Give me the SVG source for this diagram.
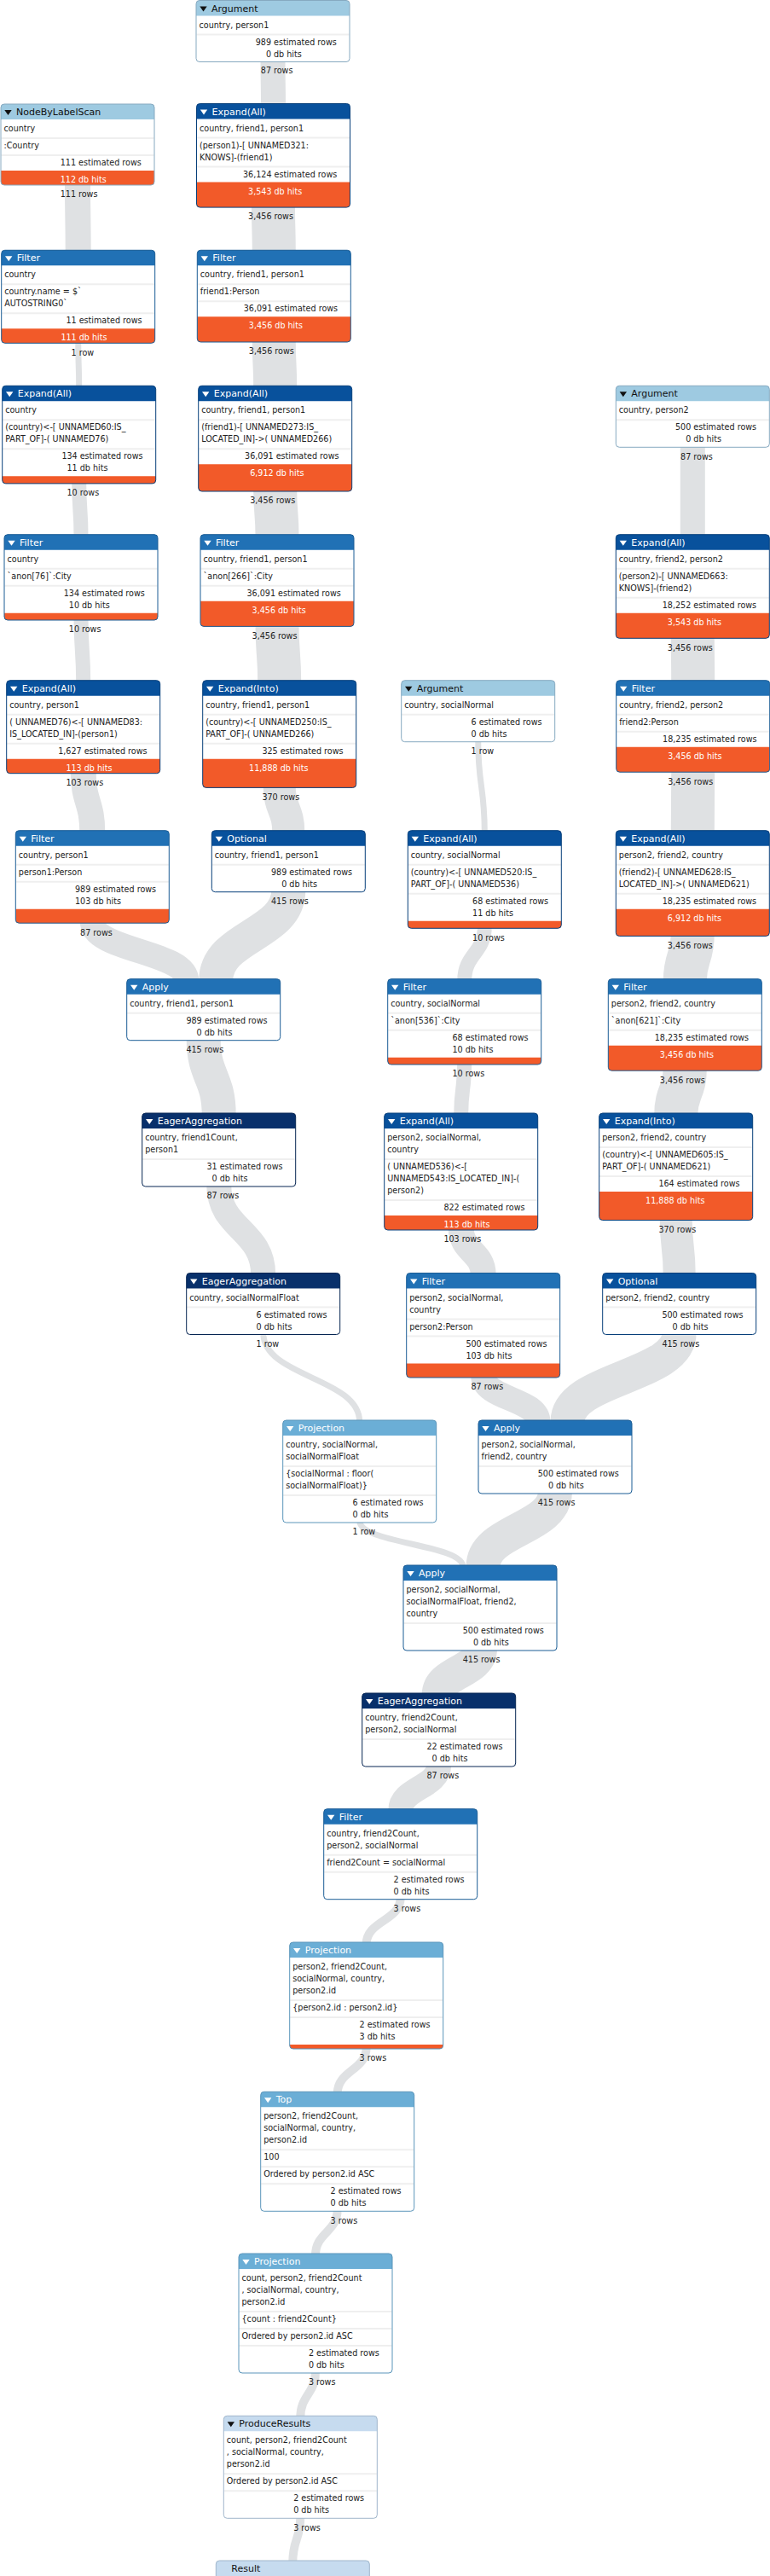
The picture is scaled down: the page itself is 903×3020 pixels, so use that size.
<svg xmlns="http://www.w3.org/2000/svg" width="903" height="3020" viewBox="0 0 903 3020">
<style>
.bg{fill:#fff}
.t{font-family:"DejaVu Sans","Liberation Sans",sans-serif;font-size:9.6px;fill:#222}
.h{font-family:"DejaVu Sans","Liberation Sans",sans-serif;font-size:11px;fill:#fff}
.hk{fill:#111}
.e{text-anchor:end}
.w{fill:#fff}
.sep{stroke:#efefef;stroke-width:2}
.bar{fill:#f25a29}
.tw{fill:#fff}
.tk{fill:#111}
.c1{fill:#9ecae1}.c2{fill:#08519c}.c3{fill:#2171b5}.c4{fill:#08306b}.c5{fill:#6baed6}.c6{fill:#c6dbef}
.o1{fill:none;stroke:#86a9c0}.o2{fill:none;stroke:#073f7a}.o3{fill:none;stroke:#1b5d95}.o4{fill:none;stroke:#062552}.o5{fill:none;stroke:#5a95ba}.o6{fill:none;stroke:#a0b6cb}
.band{fill:none;stroke:#dfe1e3}
</style>
<g id="connectors">
<path class="band" stroke-width="29" d="M320,70 C320,96.75 320.5,96.75 320.5,123.5"/>
<path class="band" stroke-width="51" d="M320.5,241 C320.5,268.2 321.3,268.2 321.3,295.3"/>
<path class="band" stroke-width="51" d="M321.3,399 C321.3,426.7 322.7,426.7 322.7,454.3"/>
<path class="band" stroke-width="51" d="M322.7,574 C322.7,601.4 325,601.4 325,628.7"/>
<path class="band" stroke-width="51" d="M325,732.4 C325,766 327.7,766 327.7,799.7"/>
<path class="band" stroke-width="38" d="M327.7,921.4 C327.7,948.6 338.3,948.6 338.3,975.7"/>
<path class="band" stroke-width="40" d="M338.3,1043.7 C338.3,1096.7 253.2,1096.7 253.2,1149.7"/>
<path class="band" stroke-width="30" d="M91,215 C91,255.2 91.7,255.2 91.7,295.3"/>
<path class="band" stroke-width="7" d="M91.7,400.3 C91.7,427.3 92.7,427.3 92.7,454.3"/>
<path class="band" stroke-width="17" d="M92.7,564.9 C92.7,596.8 95,596.8 95,628.7"/>
<path class="band" stroke-width="17" d="M95,725 C95,762.4 97.7,762.4 97.7,799.7"/>
<path class="band" stroke-width="30" d="M97.7,904.7 C97.7,940.2 108.3,940.2 108.3,975.7"/>
<path class="band" stroke-width="29" d="M108.3,1080.2 C108.3,1115 218.7,1115 218.7,1149.7"/>
<path class="band" stroke-width="40" d="M238.7,1217.7 C238.7,1262.4 256.7,1262.4 256.7,1307"/>
<path class="band" stroke-width="29" d="M256.7,1389 C256.7,1441.7 308.7,1441.7 308.7,1494.5"/>
<path class="band" stroke-width="7" d="M308.7,1562.5 C308.7,1614.8 421.7,1614.8 421.7,1667"/>
<path class="band" stroke-width="7" d="M421.7,1783 C421.7,1810 543,1810 543,1837"/>
<path class="band" stroke-width="29" d="M812.3,522.3 C812.3,575.5 812.3,575.5 812.3,628.7"/>
<path class="band" stroke-width="51" d="M812.3,746.3 C812.3,773 812.7,773 812.7,799.7"/>
<path class="band" stroke-width="51" d="M812.7,903.2 C812.7,939.5 812.3,939.5 812.3,975.7"/>
<path class="band" stroke-width="51" d="M812.3,1095.4 C812.3,1122.6 803.3,1122.6 803.3,1149.7"/>
<path class="band" stroke-width="51" d="M803.3,1253.2 C803.3,1280.1 792.7,1280.1 792.7,1307"/>
<path class="band" stroke-width="38" d="M792.7,1428.5 C792.7,1461.6 796.7,1461.6 796.7,1494.5"/>
<path class="band" stroke-width="40" d="M796.7,1562.5 C796.7,1614.8 665.5,1614.8 665.5,1667"/>
<path class="band" stroke-width="7" d="M560.7,867.7 C560.7,921.7 568.3,921.7 568.3,975.7"/>
<path class="band" stroke-width="17" d="M568.3,1086.3 C568.3,1118 544.7,1118 544.7,1149.7"/>
<path class="band" stroke-width="17" d="M544.7,1246 C544.7,1276.5 540.7,1276.5 540.7,1307"/>
<path class="band" stroke-width="30" d="M540.7,1440 C540.7,1467.3 566.7,1467.3 566.7,1494.5"/>
<path class="band" stroke-width="29" d="M566.7,1613 C566.7,1640 631,1640 631,1667"/>
<path class="band" stroke-width="40" d="M651,1749 C651,1793 566.5,1793 566.5,1837"/>
<path class="band" stroke-width="40" d="M563,1933 C563,1960 514.7,1960 514.7,1987"/>
<path class="band" stroke-width="29" d="M514.7,2069 C514.7,2095.9 469.7,2095.9 469.7,2122.7"/>
<path class="band" stroke-width="10" d="M469.7,2224.7 C469.7,2251.9 429.7,2251.9 429.7,2279"/>
<path class="band" stroke-width="10" d="M429.7,2400 C429.7,2427.2 395.7,2427.2 395.7,2454.3"/>
<path class="band" stroke-width="10" d="M395.7,2590.3 C395.7,2617.2 370,2617.2 370,2644"/>
<path class="band" stroke-width="10" d="M370,2780 C370,2807.2 352.3,2807.2 352.3,2834.3"/>
<path class="band" stroke-width="10" d="M352.3,2950.3 C352.3,2977.2 343.3,2977.2 343.3,3004"/>
<text class="t e" x="318" y="86.3">87</text><text class="t" x="321" y="86.3">rows</text>
<text class="t e" x="318.5" y="257.4">3,456</text><text class="t" x="321.5" y="257.4">rows</text>
<text class="t e" x="319.3" y="415.3">3,456</text><text class="t" x="322.3" y="415.3">rows</text>
<text class="t e" x="320.7" y="590.3">3,456</text><text class="t" x="323.7" y="590.3">rows</text>
<text class="t e" x="323" y="748.7">3,456</text><text class="t" x="326" y="748.7">rows</text>
<text class="t e" x="325.7" y="937.7">370</text><text class="t" x="328.7" y="937.7">rows</text>
<text class="t e" x="336.3" y="1060">415</text><text class="t" x="339.3" y="1060">rows</text>
<text class="t e" x="236.7" y="1234">415</text><text class="t" x="239.7" y="1234">rows</text>
<text class="t e" x="254.7" y="1405.3">87</text><text class="t" x="257.7" y="1405.3">rows</text>
<text class="t e" x="306.7" y="1578.8">1</text><text class="t" x="309.7" y="1578.8">row</text>
<text class="t e" x="419.7" y="1799.3">1</text><text class="t" x="422.7" y="1799.3">row</text>
<text class="t e" x="89" y="231.3">111</text><text class="t" x="92" y="231.3">rows</text>
<text class="t e" x="89.7" y="416.6">1</text><text class="t" x="92.7" y="416.6">row</text>
<text class="t e" x="90.7" y="581.2">10</text><text class="t" x="93.7" y="581.2">rows</text>
<text class="t e" x="93" y="741.3">10</text><text class="t" x="96" y="741.3">rows</text>
<text class="t e" x="95.7" y="921">103</text><text class="t" x="98.7" y="921">rows</text>
<text class="t e" x="106.3" y="1096.5">87</text><text class="t" x="109.3" y="1096.5">rows</text>
<text class="t e" x="810.3" y="538.6">87</text><text class="t" x="813.3" y="538.6">rows</text>
<text class="t e" x="810.3" y="762.6">3,456</text><text class="t" x="813.3" y="762.6">rows</text>
<text class="t e" x="810.7" y="919.5">3,456</text><text class="t" x="813.7" y="919.5">rows</text>
<text class="t e" x="810.3" y="1111.7">3,456</text><text class="t" x="813.3" y="1111.7">rows</text>
<text class="t e" x="801.3" y="1269.5">3,456</text><text class="t" x="804.3" y="1269.5">rows</text>
<text class="t e" x="790.7" y="1444.8">370</text><text class="t" x="793.7" y="1444.8">rows</text>
<text class="t e" x="794.7" y="1578.8">415</text><text class="t" x="797.7" y="1578.8">rows</text>
<text class="t e" x="558.7" y="884">1</text><text class="t" x="561.7" y="884">row</text>
<text class="t e" x="566.3" y="1102.6">10</text><text class="t" x="569.3" y="1102.6">rows</text>
<text class="t e" x="542.7" y="1262.3">10</text><text class="t" x="545.7" y="1262.3">rows</text>
<text class="t e" x="538.7" y="1456.3">103</text><text class="t" x="541.7" y="1456.3">rows</text>
<text class="t e" x="564.7" y="1629.3">87</text><text class="t" x="567.7" y="1629.3">rows</text>
<text class="t e" x="649" y="1765.3">415</text><text class="t" x="652" y="1765.3">rows</text>
<text class="t e" x="561" y="1949.3">415</text><text class="t" x="564" y="1949.3">rows</text>
<text class="t e" x="512.7" y="2085.3">87</text><text class="t" x="515.7" y="2085.3">rows</text>
<text class="t e" x="467.7" y="2241">3</text><text class="t" x="470.7" y="2241">rows</text>
<text class="t e" x="427.7" y="2416.3">3</text><text class="t" x="430.7" y="2416.3">rows</text>
<text class="t e" x="393.7" y="2606.6">3</text><text class="t" x="396.7" y="2606.6">rows</text>
<text class="t e" x="368" y="2796.3">3</text><text class="t" x="371" y="2796.3">rows</text>
<text class="t e" x="350.3" y="2966.6">3</text><text class="t" x="353.3" y="2966.6">rows</text>
</g>

<g id="n_arg1">
<rect class="bg" x="230" y="0.5" width="180" height="72" rx="4"/>
<path class="c1" d="M230,18.5V4.5Q230,0.5 234,0.5H406Q410,0.5 410,4.5V18.5Z"/>
<polygon class="tk" points="234.3,7.5 242.7,7.5 238.5,13.5"/>
<text class="h hk" x="248" y="13.5">Argument</text>
<text class="t" x="233.5" y="32.5">country, person1</text>
<line class="sep" x1="230.5" y1="40.5" x2="409.5" y2="40.5"/>
<text class="t e" x="318" y="52.5">989</text><text class="t" x="321" y="52.5">estimated rows</text>
<text class="t e" x="318" y="66.5">0</text><text class="t" x="321" y="66.5">db hits</text>
<rect class="o1" x="230" y="0.5" width="180" height="72" rx="4"/>
</g>

<g id="n_exp1">
<rect class="bg" x="230.5" y="121.5" width="180" height="121.6" rx="4"/>
<path class="c2" d="M230.5,139.5V125.5Q230.5,121.5 234.5,121.5H406.5Q410.5,121.5 410.5,125.5V139.5Z"/>
<polygon class="tw" points="234.8,128.5 243.2,128.5 239,134.5"/>
<text class="h" x="248.5" y="134.5">Expand(All)</text>
<text class="t" x="234" y="153.5">country, friend1, person1</text>
<line class="sep" x1="231" y1="161.5" x2="410" y2="161.5"/>
<text class="t" x="234" y="173.5">(person1)-[ UNNAMED321:</text>
<text class="t" x="234" y="187.5">KNOWS]-(friend1)</text>
<line class="sep" x1="231" y1="195.5" x2="410" y2="195.5"/>
<text class="t e" x="318.5" y="207.5">36,124</text><text class="t" x="321.5" y="207.5">estimated rows</text>
<path class="bar" d="M230.5,213.5H410.5V239.1Q410.5,243.1 406.5,243.1H234.5Q230.5,243.1 230.5,239.1Z"/>
<text class="t e w" x="318.5" y="227.5">3,543</text><text class="t w" x="321.5" y="227.5">db hits</text>
<rect class="o2" x="230.5" y="121.5" width="180" height="121.6" rx="4"/>
</g>

<g id="n_fil1">
<rect class="bg" x="231.3" y="293.3" width="180" height="107.7" rx="4"/>
<path class="c3" d="M231.3,311.3V297.3Q231.3,293.3 235.3,293.3H407.3Q411.3,293.3 411.3,297.3V311.3Z"/>
<polygon class="tw" points="235.6,300.3 244,300.3 239.8,306.3"/>
<text class="h" x="249.3" y="306.3">Filter</text>
<text class="t" x="234.8" y="325.3">country, friend1, person1</text>
<line class="sep" x1="231.8" y1="333.3" x2="410.8" y2="333.3"/>
<text class="t" x="234.8" y="345.3">friend1:Person</text>
<line class="sep" x1="231.8" y1="353.3" x2="410.8" y2="353.3"/>
<text class="t e" x="319.3" y="365.3">36,091</text><text class="t" x="322.3" y="365.3">estimated rows</text>
<path class="bar" d="M231.3,371.3H411.3V397Q411.3,401 407.3,401H235.3Q231.3,401 231.3,397Z"/>
<text class="t e w" x="319.3" y="385.3">3,456</text><text class="t w" x="322.3" y="385.3">db hits</text>
<rect class="o3" x="231.3" y="293.3" width="180" height="107.7" rx="4"/>
</g>

<g id="n_exp2">
<rect class="bg" x="232.7" y="452.3" width="180" height="123.7" rx="4"/>
<path class="c2" d="M232.7,470.3V456.3Q232.7,452.3 236.7,452.3H408.7Q412.7,452.3 412.7,456.3V470.3Z"/>
<polygon class="tw" points="237,459.3 245.4,459.3 241.2,465.3"/>
<text class="h" x="250.7" y="465.3">Expand(All)</text>
<text class="t" x="236.2" y="484.3">country, friend1, person1</text>
<line class="sep" x1="233.2" y1="492.3" x2="412.2" y2="492.3"/>
<text class="t" x="236.2" y="504.3">(friend1)-[ UNNAMED273:IS_</text>
<text class="t" x="236.2" y="518.3">LOCATED_IN]-&gt;( UNNAMED266)</text>
<line class="sep" x1="233.2" y1="526.3" x2="412.2" y2="526.3"/>
<text class="t e" x="320.7" y="538.3">36,091</text><text class="t" x="323.7" y="538.3">estimated rows</text>
<path class="bar" d="M232.7,544.3H412.7V572Q412.7,576 408.7,576H236.7Q232.7,576 232.7,572Z"/>
<text class="t e w" x="320.7" y="558.3">6,912</text><text class="t w" x="323.7" y="558.3">db hits</text>
<rect class="o2" x="232.7" y="452.3" width="180" height="123.7" rx="4"/>
</g>

<g id="n_fil2">
<rect class="bg" x="235" y="626.7" width="180" height="107.7" rx="4"/>
<path class="c3" d="M235,644.7V630.7Q235,626.7 239,626.7H411Q415,626.7 415,630.7V644.7Z"/>
<polygon class="tw" points="239.3,633.7 247.7,633.7 243.5,639.7"/>
<text class="h" x="253" y="639.7">Filter</text>
<text class="t" x="238.5" y="658.7">country, friend1, person1</text>
<line class="sep" x1="235.5" y1="666.7" x2="414.5" y2="666.7"/>
<text class="t" x="238.5" y="678.7">`anon[266]`:City</text>
<line class="sep" x1="235.5" y1="686.7" x2="414.5" y2="686.7"/>
<text class="t e" x="323" y="698.7">36,091</text><text class="t" x="326" y="698.7">estimated rows</text>
<path class="bar" d="M235,704.7H415V730.4Q415,734.4 411,734.4H239Q235,734.4 235,730.4Z"/>
<text class="t e w" x="323" y="718.7">3,456</text><text class="t w" x="326" y="718.7">db hits</text>
<rect class="o3" x="235" y="626.7" width="180" height="107.7" rx="4"/>
</g>

<g id="n_expinto1">
<rect class="bg" x="237.7" y="797.7" width="180" height="125.7" rx="4"/>
<path class="c2" d="M237.7,815.7V801.7Q237.7,797.7 241.7,797.7H413.7Q417.7,797.7 417.7,801.7V815.7Z"/>
<polygon class="tw" points="242,804.7 250.4,804.7 246.2,810.7"/>
<text class="h" x="255.7" y="810.7">Expand(Into)</text>
<text class="t" x="241.2" y="829.7">country, friend1, person1</text>
<line class="sep" x1="238.2" y1="837.7" x2="417.2" y2="837.7"/>
<text class="t" x="241.2" y="849.7">(country)&lt;-[ UNNAMED250:IS_</text>
<text class="t" x="241.2" y="863.7">PART_OF]-( UNNAMED266)</text>
<line class="sep" x1="238.2" y1="871.7" x2="417.2" y2="871.7"/>
<text class="t e" x="325.7" y="883.7">325</text><text class="t" x="328.7" y="883.7">estimated rows</text>
<path class="bar" d="M237.7,889.7H417.7V919.4Q417.7,923.4 413.7,923.4H241.7Q237.7,923.4 237.7,919.4Z"/>
<text class="t e w" x="325.7" y="903.7">11,888</text><text class="t w" x="328.7" y="903.7">db hits</text>
<rect class="o2" x="237.7" y="797.7" width="180" height="125.7" rx="4"/>
</g>

<g id="n_opt1">
<rect class="bg" x="248.3" y="973.7" width="180" height="72" rx="4"/>
<path class="c2" d="M248.3,991.7V977.7Q248.3,973.7 252.3,973.7H424.3Q428.3,973.7 428.3,977.7V991.7Z"/>
<polygon class="tw" points="252.6,980.7 261,980.7 256.8,986.7"/>
<text class="h" x="266.3" y="986.7">Optional</text>
<text class="t" x="251.8" y="1005.7">country, friend1, person1</text>
<line class="sep" x1="248.8" y1="1013.7" x2="427.8" y2="1013.7"/>
<text class="t e" x="336.3" y="1025.7">989</text><text class="t" x="339.3" y="1025.7">estimated rows</text>
<text class="t e" x="336.3" y="1039.7">0</text><text class="t" x="339.3" y="1039.7">db hits</text>
<rect class="o2" x="248.3" y="973.7" width="180" height="72" rx="4"/>
</g>

<g id="n_apply1">
<rect class="bg" x="148.7" y="1147.7" width="180" height="72" rx="4"/>
<path class="c3" d="M148.7,1165.7V1151.7Q148.7,1147.7 152.7,1147.7H324.7Q328.7,1147.7 328.7,1151.7V1165.7Z"/>
<polygon class="tw" points="153,1154.7 161.4,1154.7 157.2,1160.7"/>
<text class="h" x="166.7" y="1160.7">Apply</text>
<text class="t" x="152.2" y="1179.7">country, friend1, person1</text>
<line class="sep" x1="149.2" y1="1187.7" x2="328.2" y2="1187.7"/>
<text class="t e" x="236.7" y="1199.7">989</text><text class="t" x="239.7" y="1199.7">estimated rows</text>
<text class="t e" x="236.7" y="1213.7">0</text><text class="t" x="239.7" y="1213.7">db hits</text>
<rect class="o3" x="148.7" y="1147.7" width="180" height="72" rx="4"/>
</g>

<g id="n_eager1">
<rect class="bg" x="166.7" y="1305" width="180" height="86" rx="4"/>
<path class="c4" d="M166.7,1323V1309Q166.7,1305 170.7,1305H342.7Q346.7,1305 346.7,1309V1323Z"/>
<polygon class="tw" points="171,1312 179.4,1312 175.2,1318"/>
<text class="h" x="184.7" y="1318">EagerAggregation</text>
<text class="t" x="170.2" y="1337">country, friend1Count,</text>
<text class="t" x="170.2" y="1351">person1</text>
<line class="sep" x1="167.2" y1="1359" x2="346.2" y2="1359"/>
<text class="t e" x="254.7" y="1371">31</text><text class="t" x="257.7" y="1371">estimated rows</text>
<text class="t e" x="254.7" y="1385">0</text><text class="t" x="257.7" y="1385">db hits</text>
<rect class="o4" x="166.7" y="1305" width="180" height="86" rx="4"/>
</g>

<g id="n_eager2">
<rect class="bg" x="218.7" y="1492.5" width="180" height="72" rx="4"/>
<path class="c4" d="M218.7,1510.5V1496.5Q218.7,1492.5 222.7,1492.5H394.7Q398.7,1492.5 398.7,1496.5V1510.5Z"/>
<polygon class="tw" points="223,1499.5 231.4,1499.5 227.2,1505.5"/>
<text class="h" x="236.7" y="1505.5">EagerAggregation</text>
<text class="t" x="222.2" y="1524.5">country, socialNormalFloat</text>
<line class="sep" x1="219.2" y1="1532.5" x2="398.2" y2="1532.5"/>
<text class="t e" x="306.7" y="1544.5">6</text><text class="t" x="309.7" y="1544.5">estimated rows</text>
<text class="t e" x="306.7" y="1558.5">0</text><text class="t" x="309.7" y="1558.5">db hits</text>
<rect class="o4" x="218.7" y="1492.5" width="180" height="72" rx="4"/>
</g>

<g id="n_proj1">
<rect class="bg" x="331.7" y="1665" width="180" height="120" rx="4"/>
<path class="c5" d="M331.7,1683V1669Q331.7,1665 335.7,1665H507.7Q511.7,1665 511.7,1669V1683Z"/>
<polygon class="tw" points="336,1672 344.4,1672 340.2,1678"/>
<text class="h" x="349.7" y="1678">Projection</text>
<text class="t" x="335.2" y="1697">country, socialNormal,</text>
<text class="t" x="335.2" y="1711">socialNormalFloat</text>
<line class="sep" x1="332.2" y1="1719" x2="511.2" y2="1719"/>
<text class="t" x="335.2" y="1731">{socialNormal : floor(</text>
<text class="t" x="335.2" y="1745">socialNormalFloat)}</text>
<line class="sep" x1="332.2" y1="1753" x2="511.2" y2="1753"/>
<text class="t e" x="419.7" y="1765">6</text><text class="t" x="422.7" y="1765">estimated rows</text>
<text class="t e" x="419.7" y="1779">0</text><text class="t" x="422.7" y="1779">db hits</text>
<rect class="o5" x="331.7" y="1665" width="180" height="120" rx="4"/>
</g>

<g id="n_nbls">
<rect class="bg" x="1" y="122" width="180" height="95" rx="4"/>
<path class="c1" d="M1,140V126Q1,122 5,122H177Q181,122 181,126V140Z"/>
<polygon class="tk" points="5.3,129 13.7,129 9.5,135"/>
<text class="h hk" x="19" y="135">NodeByLabelScan</text>
<text class="t" x="4.5" y="154">country</text>
<line class="sep" x1="1.5" y1="162" x2="180.5" y2="162"/>
<text class="t" x="4.5" y="174">:Country</text>
<line class="sep" x1="1.5" y1="182" x2="180.5" y2="182"/>
<text class="t e" x="89" y="194">111</text><text class="t" x="92" y="194">estimated rows</text>
<path class="bar" d="M1,200H181V213Q181,217 177,217H5Q1,217 1,213Z"/>
<text class="t e w" x="89" y="214">112</text><text class="t w" x="92" y="214">db hits</text>
<rect class="o1" x="1" y="122" width="180" height="95" rx="4"/>
</g>

<g id="n_filL1">
<rect class="bg" x="1.7" y="293.3" width="180" height="109" rx="4"/>
<path class="c3" d="M1.7,311.3V297.3Q1.7,293.3 5.7,293.3H177.7Q181.7,293.3 181.7,297.3V311.3Z"/>
<polygon class="tw" points="6,300.3 14.4,300.3 10.2,306.3"/>
<text class="h" x="19.7" y="306.3">Filter</text>
<text class="t" x="5.2" y="325.3">country</text>
<line class="sep" x1="2.2" y1="333.3" x2="181.2" y2="333.3"/>
<text class="t" x="5.2" y="345.3">country.name = $`</text>
<text class="t" x="5.2" y="359.3">AUTOSTRING0`</text>
<line class="sep" x1="2.2" y1="367.3" x2="181.2" y2="367.3"/>
<text class="t e" x="89.7" y="379.3">11</text><text class="t" x="92.7" y="379.3">estimated rows</text>
<path class="bar" d="M1.7,385.3H181.7V398.3Q181.7,402.3 177.7,402.3H5.7Q1.7,402.3 1.7,398.3Z"/>
<text class="t e w" x="89.7" y="399.3">111</text><text class="t w" x="92.7" y="399.3">db hits</text>
<rect class="o3" x="1.7" y="293.3" width="180" height="109" rx="4"/>
</g>

<g id="n_expL1">
<rect class="bg" x="2.7" y="452.3" width="180" height="114.6" rx="4"/>
<path class="c2" d="M2.7,470.3V456.3Q2.7,452.3 6.7,452.3H178.7Q182.7,452.3 182.7,456.3V470.3Z"/>
<polygon class="tw" points="7,459.3 15.4,459.3 11.2,465.3"/>
<text class="h" x="20.7" y="465.3">Expand(All)</text>
<text class="t" x="6.2" y="484.3">country</text>
<line class="sep" x1="3.2" y1="492.3" x2="182.2" y2="492.3"/>
<text class="t" x="6.2" y="504.3">(country)&lt;-[ UNNAMED60:IS_</text>
<text class="t" x="6.2" y="518.3">PART_OF]-( UNNAMED76)</text>
<line class="sep" x1="3.2" y1="526.3" x2="182.2" y2="526.3"/>
<text class="t e" x="90.7" y="538.3">134</text><text class="t" x="93.7" y="538.3">estimated rows</text>
<text class="t e" x="90.7" y="552.3">11</text><text class="t" x="93.7" y="552.3">db hits</text>
<path class="bar" d="M2.7,558.3H182.7V562.9Q182.7,566.9 178.7,566.9H6.7Q2.7,566.9 2.7,562.9Z"/>
<rect class="o2" x="2.7" y="452.3" width="180" height="114.6" rx="4"/>
</g>

<g id="n_filL2">
<rect class="bg" x="5" y="626.7" width="180" height="100.3" rx="4"/>
<path class="c3" d="M5,644.7V630.7Q5,626.7 9,626.7H181Q185,626.7 185,630.7V644.7Z"/>
<polygon class="tw" points="9.3,633.7 17.7,633.7 13.5,639.7"/>
<text class="h" x="23" y="639.7">Filter</text>
<text class="t" x="8.5" y="658.7">country</text>
<line class="sep" x1="5.5" y1="666.7" x2="184.5" y2="666.7"/>
<text class="t" x="8.5" y="678.7">`anon[76]`:City</text>
<line class="sep" x1="5.5" y1="686.7" x2="184.5" y2="686.7"/>
<text class="t e" x="93" y="698.7">134</text><text class="t" x="96" y="698.7">estimated rows</text>
<text class="t e" x="93" y="712.7">10</text><text class="t" x="96" y="712.7">db hits</text>
<path class="bar" d="M5,718.7H185V723Q185,727 181,727H9Q5,727 5,723Z"/>
<rect class="o3" x="5" y="626.7" width="180" height="100.3" rx="4"/>
</g>

<g id="n_expL2">
<rect class="bg" x="7.7" y="797.7" width="180" height="109" rx="4"/>
<path class="c2" d="M7.7,815.7V801.7Q7.7,797.7 11.7,797.7H183.7Q187.7,797.7 187.7,801.7V815.7Z"/>
<polygon class="tw" points="12,804.7 20.4,804.7 16.2,810.7"/>
<text class="h" x="25.7" y="810.7">Expand(All)</text>
<text class="t" x="11.2" y="829.7">country, person1</text>
<line class="sep" x1="8.2" y1="837.7" x2="187.2" y2="837.7"/>
<text class="t" x="11.2" y="849.7">( UNNAMED76)&lt;-[ UNNAMED83:</text>
<text class="t" x="11.2" y="863.7">IS_LOCATED_IN]-(person1)</text>
<line class="sep" x1="8.2" y1="871.7" x2="187.2" y2="871.7"/>
<text class="t e" x="95.7" y="883.7">1,627</text><text class="t" x="98.7" y="883.7">estimated rows</text>
<path class="bar" d="M7.7,889.7H187.7V902.7Q187.7,906.7 183.7,906.7H11.7Q7.7,906.7 7.7,902.7Z"/>
<text class="t e w" x="95.7" y="903.7">113</text><text class="t w" x="98.7" y="903.7">db hits</text>
<rect class="o2" x="7.7" y="797.7" width="180" height="109" rx="4"/>
</g>

<g id="n_filL3">
<rect class="bg" x="18.3" y="973.7" width="180" height="108.5" rx="4"/>
<path class="c3" d="M18.3,991.7V977.7Q18.3,973.7 22.3,973.7H194.3Q198.3,973.7 198.3,977.7V991.7Z"/>
<polygon class="tw" points="22.6,980.7 31,980.7 26.8,986.7"/>
<text class="h" x="36.3" y="986.7">Filter</text>
<text class="t" x="21.8" y="1005.7">country, person1</text>
<line class="sep" x1="18.8" y1="1013.7" x2="197.8" y2="1013.7"/>
<text class="t" x="21.8" y="1025.7">person1:Person</text>
<line class="sep" x1="18.8" y1="1033.7" x2="197.8" y2="1033.7"/>
<text class="t e" x="106.3" y="1045.7">989</text><text class="t" x="109.3" y="1045.7">estimated rows</text>
<text class="t e" x="106.3" y="1059.7">103</text><text class="t" x="109.3" y="1059.7">db hits</text>
<path class="bar" d="M18.3,1065.7H198.3V1078.2Q198.3,1082.2 194.3,1082.2H22.3Q18.3,1082.2 18.3,1078.2Z"/>
<rect class="o3" x="18.3" y="973.7" width="180" height="108.5" rx="4"/>
</g>

<g id="n_arg2">
<rect class="bg" x="722.3" y="452.3" width="180" height="72" rx="4"/>
<path class="c1" d="M722.3,470.3V456.3Q722.3,452.3 726.3,452.3H898.3Q902.3,452.3 902.3,456.3V470.3Z"/>
<polygon class="tk" points="726.6,459.3 735,459.3 730.8,465.3"/>
<text class="h hk" x="740.3" y="465.3">Argument</text>
<text class="t" x="725.8" y="484.3">country, person2</text>
<line class="sep" x1="722.8" y1="492.3" x2="901.8" y2="492.3"/>
<text class="t e" x="810.3" y="504.3">500</text><text class="t" x="813.3" y="504.3">estimated rows</text>
<text class="t e" x="810.3" y="518.3">0</text><text class="t" x="813.3" y="518.3">db hits</text>
<rect class="o1" x="722.3" y="452.3" width="180" height="72" rx="4"/>
</g>

<g id="n_expR1">
<rect class="bg" x="722.3" y="626.7" width="180" height="121.6" rx="4"/>
<path class="c2" d="M722.3,644.7V630.7Q722.3,626.7 726.3,626.7H898.3Q902.3,626.7 902.3,630.7V644.7Z"/>
<polygon class="tw" points="726.6,633.7 735,633.7 730.8,639.7"/>
<text class="h" x="740.3" y="639.7">Expand(All)</text>
<text class="t" x="725.8" y="658.7">country, friend2, person2</text>
<line class="sep" x1="722.8" y1="666.7" x2="901.8" y2="666.7"/>
<text class="t" x="725.8" y="678.7">(person2)-[ UNNAMED663:</text>
<text class="t" x="725.8" y="692.7">KNOWS]-(friend2)</text>
<line class="sep" x1="722.8" y1="700.7" x2="901.8" y2="700.7"/>
<text class="t e" x="810.3" y="712.7">18,252</text><text class="t" x="813.3" y="712.7">estimated rows</text>
<path class="bar" d="M722.3,718.7H902.3V744.3Q902.3,748.3 898.3,748.3H726.3Q722.3,748.3 722.3,744.3Z"/>
<text class="t e w" x="810.3" y="732.7">3,543</text><text class="t w" x="813.3" y="732.7">db hits</text>
<rect class="o2" x="722.3" y="626.7" width="180" height="121.6" rx="4"/>
</g>

<g id="n_filR1">
<rect class="bg" x="722.7" y="797.7" width="180" height="107.5" rx="4"/>
<path class="c3" d="M722.7,815.7V801.7Q722.7,797.7 726.7,797.7H898.7Q902.7,797.7 902.7,801.7V815.7Z"/>
<polygon class="tw" points="727,804.7 735.4,804.7 731.2,810.7"/>
<text class="h" x="740.7" y="810.7">Filter</text>
<text class="t" x="726.2" y="829.7">country, friend2, person2</text>
<line class="sep" x1="723.2" y1="837.7" x2="902.2" y2="837.7"/>
<text class="t" x="726.2" y="849.7">friend2:Person</text>
<line class="sep" x1="723.2" y1="857.7" x2="902.2" y2="857.7"/>
<text class="t e" x="810.7" y="869.7">18,235</text><text class="t" x="813.7" y="869.7">estimated rows</text>
<path class="bar" d="M722.7,875.7H902.7V901.2Q902.7,905.2 898.7,905.2H726.7Q722.7,905.2 722.7,901.2Z"/>
<text class="t e w" x="810.7" y="889.7">3,456</text><text class="t w" x="813.7" y="889.7">db hits</text>
<rect class="o3" x="722.7" y="797.7" width="180" height="107.5" rx="4"/>
</g>

<g id="n_expR2">
<rect class="bg" x="722.3" y="973.7" width="180" height="123.7" rx="4"/>
<path class="c2" d="M722.3,991.7V977.7Q722.3,973.7 726.3,973.7H898.3Q902.3,973.7 902.3,977.7V991.7Z"/>
<polygon class="tw" points="726.6,980.7 735,980.7 730.8,986.7"/>
<text class="h" x="740.3" y="986.7">Expand(All)</text>
<text class="t" x="725.8" y="1005.7">person2, friend2, country</text>
<line class="sep" x1="722.8" y1="1013.7" x2="901.8" y2="1013.7"/>
<text class="t" x="725.8" y="1025.7">(friend2)-[ UNNAMED628:IS_</text>
<text class="t" x="725.8" y="1039.7">LOCATED_IN]-&gt;( UNNAMED621)</text>
<line class="sep" x1="722.8" y1="1047.7" x2="901.8" y2="1047.7"/>
<text class="t e" x="810.3" y="1059.7">18,235</text><text class="t" x="813.3" y="1059.7">estimated rows</text>
<path class="bar" d="M722.3,1065.7H902.3V1093.4Q902.3,1097.4 898.3,1097.4H726.3Q722.3,1097.4 722.3,1093.4Z"/>
<text class="t e w" x="810.3" y="1079.7">6,912</text><text class="t w" x="813.3" y="1079.7">db hits</text>
<rect class="o2" x="722.3" y="973.7" width="180" height="123.7" rx="4"/>
</g>

<g id="n_filR2">
<rect class="bg" x="713.3" y="1147.7" width="180" height="107.5" rx="4"/>
<path class="c3" d="M713.3,1165.7V1151.7Q713.3,1147.7 717.3,1147.7H889.3Q893.3,1147.7 893.3,1151.7V1165.7Z"/>
<polygon class="tw" points="717.6,1154.7 726,1154.7 721.8,1160.7"/>
<text class="h" x="731.3" y="1160.7">Filter</text>
<text class="t" x="716.8" y="1179.7">person2, friend2, country</text>
<line class="sep" x1="713.8" y1="1187.7" x2="892.8" y2="1187.7"/>
<text class="t" x="716.8" y="1199.7">`anon[621]`:City</text>
<line class="sep" x1="713.8" y1="1207.7" x2="892.8" y2="1207.7"/>
<text class="t e" x="801.3" y="1219.7">18,235</text><text class="t" x="804.3" y="1219.7">estimated rows</text>
<path class="bar" d="M713.3,1225.7H893.3V1251.2Q893.3,1255.2 889.3,1255.2H717.3Q713.3,1255.2 713.3,1251.2Z"/>
<text class="t e w" x="801.3" y="1239.7">3,456</text><text class="t w" x="804.3" y="1239.7">db hits</text>
<rect class="o3" x="713.3" y="1147.7" width="180" height="107.5" rx="4"/>
</g>

<g id="n_expintoR">
<rect class="bg" x="702.7" y="1305" width="180" height="125.5" rx="4"/>
<path class="c2" d="M702.7,1323V1309Q702.7,1305 706.7,1305H878.7Q882.7,1305 882.7,1309V1323Z"/>
<polygon class="tw" points="707,1312 715.4,1312 711.2,1318"/>
<text class="h" x="720.7" y="1318">Expand(Into)</text>
<text class="t" x="706.2" y="1337">person2, friend2, country</text>
<line class="sep" x1="703.2" y1="1345" x2="882.2" y2="1345"/>
<text class="t" x="706.2" y="1357">(country)&lt;-[ UNNAMED605:IS_</text>
<text class="t" x="706.2" y="1371">PART_OF]-( UNNAMED621)</text>
<line class="sep" x1="703.2" y1="1379" x2="882.2" y2="1379"/>
<text class="t e" x="790.7" y="1391">164</text><text class="t" x="793.7" y="1391">estimated rows</text>
<path class="bar" d="M702.7,1397H882.7V1426.5Q882.7,1430.5 878.7,1430.5H706.7Q702.7,1430.5 702.7,1426.5Z"/>
<text class="t e w" x="790.7" y="1411">11,888</text><text class="t w" x="793.7" y="1411">db hits</text>
<rect class="o2" x="702.7" y="1305" width="180" height="125.5" rx="4"/>
</g>

<g id="n_optR">
<rect class="bg" x="706.7" y="1492.5" width="180" height="72" rx="4"/>
<path class="c2" d="M706.7,1510.5V1496.5Q706.7,1492.5 710.7,1492.5H882.7Q886.7,1492.5 886.7,1496.5V1510.5Z"/>
<polygon class="tw" points="711,1499.5 719.4,1499.5 715.2,1505.5"/>
<text class="h" x="724.7" y="1505.5">Optional</text>
<text class="t" x="710.2" y="1524.5">person2, friend2, country</text>
<line class="sep" x1="707.2" y1="1532.5" x2="886.2" y2="1532.5"/>
<text class="t e" x="794.7" y="1544.5">500</text><text class="t" x="797.7" y="1544.5">estimated rows</text>
<text class="t e" x="794.7" y="1558.5">0</text><text class="t" x="797.7" y="1558.5">db hits</text>
<rect class="o2" x="706.7" y="1492.5" width="180" height="72" rx="4"/>
</g>

<g id="n_arg3">
<rect class="bg" x="470.7" y="797.7" width="180" height="72" rx="4"/>
<path class="c1" d="M470.7,815.7V801.7Q470.7,797.7 474.7,797.7H646.7Q650.7,797.7 650.7,801.7V815.7Z"/>
<polygon class="tk" points="475,804.7 483.4,804.7 479.2,810.7"/>
<text class="h hk" x="488.7" y="810.7">Argument</text>
<text class="t" x="474.2" y="829.7">country, socialNormal</text>
<line class="sep" x1="471.2" y1="837.7" x2="650.2" y2="837.7"/>
<text class="t e" x="558.7" y="849.7">6</text><text class="t" x="561.7" y="849.7">estimated rows</text>
<text class="t e" x="558.7" y="863.7">0</text><text class="t" x="561.7" y="863.7">db hits</text>
<rect class="o1" x="470.7" y="797.7" width="180" height="72" rx="4"/>
</g>

<g id="n_expS1">
<rect class="bg" x="478.3" y="973.7" width="180" height="114.6" rx="4"/>
<path class="c2" d="M478.3,991.7V977.7Q478.3,973.7 482.3,973.7H654.3Q658.3,973.7 658.3,977.7V991.7Z"/>
<polygon class="tw" points="482.6,980.7 491,980.7 486.8,986.7"/>
<text class="h" x="496.3" y="986.7">Expand(All)</text>
<text class="t" x="481.8" y="1005.7">country, socialNormal</text>
<line class="sep" x1="478.8" y1="1013.7" x2="657.8" y2="1013.7"/>
<text class="t" x="481.8" y="1025.7">(country)&lt;-[ UNNAMED520:IS_</text>
<text class="t" x="481.8" y="1039.7">PART_OF]-( UNNAMED536)</text>
<line class="sep" x1="478.8" y1="1047.7" x2="657.8" y2="1047.7"/>
<text class="t e" x="566.3" y="1059.7">68</text><text class="t" x="569.3" y="1059.7">estimated rows</text>
<text class="t e" x="566.3" y="1073.7">11</text><text class="t" x="569.3" y="1073.7">db hits</text>
<path class="bar" d="M478.3,1079.7H658.3V1084.3Q658.3,1088.3 654.3,1088.3H482.3Q478.3,1088.3 478.3,1084.3Z"/>
<rect class="o2" x="478.3" y="973.7" width="180" height="114.6" rx="4"/>
</g>

<g id="n_filS1">
<rect class="bg" x="454.7" y="1147.7" width="180" height="100.3" rx="4"/>
<path class="c3" d="M454.7,1165.7V1151.7Q454.7,1147.7 458.7,1147.7H630.7Q634.7,1147.7 634.7,1151.7V1165.7Z"/>
<polygon class="tw" points="459,1154.7 467.4,1154.7 463.2,1160.7"/>
<text class="h" x="472.7" y="1160.7">Filter</text>
<text class="t" x="458.2" y="1179.7">country, socialNormal</text>
<line class="sep" x1="455.2" y1="1187.7" x2="634.2" y2="1187.7"/>
<text class="t" x="458.2" y="1199.7">`anon[536]`:City</text>
<line class="sep" x1="455.2" y1="1207.7" x2="634.2" y2="1207.7"/>
<text class="t e" x="542.7" y="1219.7">68</text><text class="t" x="545.7" y="1219.7">estimated rows</text>
<text class="t e" x="542.7" y="1233.7">10</text><text class="t" x="545.7" y="1233.7">db hits</text>
<path class="bar" d="M454.7,1239.7H634.7V1244Q634.7,1248 630.7,1248H458.7Q454.7,1248 454.7,1244Z"/>
<rect class="o3" x="454.7" y="1147.7" width="180" height="100.3" rx="4"/>
</g>

<g id="n_expS2">
<rect class="bg" x="450.7" y="1305" width="180" height="137" rx="4"/>
<path class="c2" d="M450.7,1323V1309Q450.7,1305 454.7,1305H626.7Q630.7,1305 630.7,1309V1323Z"/>
<polygon class="tw" points="455,1312 463.4,1312 459.2,1318"/>
<text class="h" x="468.7" y="1318">Expand(All)</text>
<text class="t" x="454.2" y="1337">person2, socialNormal,</text>
<text class="t" x="454.2" y="1351">country</text>
<line class="sep" x1="451.2" y1="1359" x2="630.2" y2="1359"/>
<text class="t" x="454.2" y="1371">( UNNAMED536)&lt;-[</text>
<text class="t" x="454.2" y="1385">UNNAMED543:IS_LOCATED_IN]-(</text>
<text class="t" x="454.2" y="1399">person2)</text>
<line class="sep" x1="451.2" y1="1407" x2="630.2" y2="1407"/>
<text class="t e" x="538.7" y="1419">822</text><text class="t" x="541.7" y="1419">estimated rows</text>
<path class="bar" d="M450.7,1425H630.7V1438Q630.7,1442 626.7,1442H454.7Q450.7,1442 450.7,1438Z"/>
<text class="t e w" x="538.7" y="1439">113</text><text class="t w" x="541.7" y="1439">db hits</text>
<rect class="o2" x="450.7" y="1305" width="180" height="137" rx="4"/>
</g>

<g id="n_filS2">
<rect class="bg" x="476.7" y="1492.5" width="180" height="122.5" rx="4"/>
<path class="c3" d="M476.7,1510.5V1496.5Q476.7,1492.5 480.7,1492.5H652.7Q656.7,1492.5 656.7,1496.5V1510.5Z"/>
<polygon class="tw" points="481,1499.5 489.4,1499.5 485.2,1505.5"/>
<text class="h" x="494.7" y="1505.5">Filter</text>
<text class="t" x="480.2" y="1524.5">person2, socialNormal,</text>
<text class="t" x="480.2" y="1538.5">country</text>
<line class="sep" x1="477.2" y1="1546.5" x2="656.2" y2="1546.5"/>
<text class="t" x="480.2" y="1558.5">person2:Person</text>
<line class="sep" x1="477.2" y1="1566.5" x2="656.2" y2="1566.5"/>
<text class="t e" x="564.7" y="1578.5">500</text><text class="t" x="567.7" y="1578.5">estimated rows</text>
<text class="t e" x="564.7" y="1592.5">103</text><text class="t" x="567.7" y="1592.5">db hits</text>
<path class="bar" d="M476.7,1598.5H656.7V1611Q656.7,1615 652.7,1615H480.7Q476.7,1615 476.7,1611Z"/>
<rect class="o3" x="476.7" y="1492.5" width="180" height="122.5" rx="4"/>
</g>

<g id="n_apply2">
<rect class="bg" x="561" y="1665" width="180" height="86" rx="4"/>
<path class="c3" d="M561,1683V1669Q561,1665 565,1665H737Q741,1665 741,1669V1683Z"/>
<polygon class="tw" points="565.3,1672 573.7,1672 569.5,1678"/>
<text class="h" x="579" y="1678">Apply</text>
<text class="t" x="564.5" y="1697">person2, socialNormal,</text>
<text class="t" x="564.5" y="1711">friend2, country</text>
<line class="sep" x1="561.5" y1="1719" x2="740.5" y2="1719"/>
<text class="t e" x="649" y="1731">500</text><text class="t" x="652" y="1731">estimated rows</text>
<text class="t e" x="649" y="1745">0</text><text class="t" x="652" y="1745">db hits</text>
<rect class="o3" x="561" y="1665" width="180" height="86" rx="4"/>
</g>

<g id="n_apply3">
<rect class="bg" x="473" y="1835" width="180" height="100" rx="4"/>
<path class="c3" d="M473,1853V1839Q473,1835 477,1835H649Q653,1835 653,1839V1853Z"/>
<polygon class="tw" points="477.3,1842 485.7,1842 481.5,1848"/>
<text class="h" x="491" y="1848">Apply</text>
<text class="t" x="476.5" y="1867">person2, socialNormal,</text>
<text class="t" x="476.5" y="1881">socialNormalFloat, friend2,</text>
<text class="t" x="476.5" y="1895">country</text>
<line class="sep" x1="473.5" y1="1903" x2="652.5" y2="1903"/>
<text class="t e" x="561" y="1915">500</text><text class="t" x="564" y="1915">estimated rows</text>
<text class="t e" x="561" y="1929">0</text><text class="t" x="564" y="1929">db hits</text>
<rect class="o3" x="473" y="1835" width="180" height="100" rx="4"/>
</g>

<g id="n_eager3">
<rect class="bg" x="424.7" y="1985" width="180" height="86" rx="4"/>
<path class="c4" d="M424.7,2003V1989Q424.7,1985 428.7,1985H600.7Q604.7,1985 604.7,1989V2003Z"/>
<polygon class="tw" points="429,1992 437.4,1992 433.2,1998"/>
<text class="h" x="442.7" y="1998">EagerAggregation</text>
<text class="t" x="428.2" y="2017">country, friend2Count,</text>
<text class="t" x="428.2" y="2031">person2, socialNormal</text>
<line class="sep" x1="425.2" y1="2039" x2="604.2" y2="2039"/>
<text class="t e" x="512.7" y="2051">22</text><text class="t" x="515.7" y="2051">estimated rows</text>
<text class="t e" x="512.7" y="2065">0</text><text class="t" x="515.7" y="2065">db hits</text>
<rect class="o4" x="424.7" y="1985" width="180" height="86" rx="4"/>
</g>

<g id="n_filF">
<rect class="bg" x="379.7" y="2120.7" width="180" height="106" rx="4"/>
<path class="c3" d="M379.7,2138.7V2124.7Q379.7,2120.7 383.7,2120.7H555.7Q559.7,2120.7 559.7,2124.7V2138.7Z"/>
<polygon class="tw" points="384,2127.7 392.4,2127.7 388.2,2133.7"/>
<text class="h" x="397.7" y="2133.7">Filter</text>
<text class="t" x="383.2" y="2152.7">country, friend2Count,</text>
<text class="t" x="383.2" y="2166.7">person2, socialNormal</text>
<line class="sep" x1="380.2" y1="2174.7" x2="559.2" y2="2174.7"/>
<text class="t" x="383.2" y="2186.7">friend2Count = socialNormal</text>
<line class="sep" x1="380.2" y1="2194.7" x2="559.2" y2="2194.7"/>
<text class="t e" x="467.7" y="2206.7">2</text><text class="t" x="470.7" y="2206.7">estimated rows</text>
<text class="t e" x="467.7" y="2220.7">0</text><text class="t" x="470.7" y="2220.7">db hits</text>
<rect class="o3" x="379.7" y="2120.7" width="180" height="106" rx="4"/>
</g>

<g id="n_proj2">
<rect class="bg" x="339.7" y="2277" width="180" height="125" rx="4"/>
<path class="c5" d="M339.7,2295V2281Q339.7,2277 343.7,2277H515.7Q519.7,2277 519.7,2281V2295Z"/>
<polygon class="tw" points="344,2284 352.4,2284 348.2,2290"/>
<text class="h" x="357.7" y="2290">Projection</text>
<text class="t" x="343.2" y="2309">person2, friend2Count,</text>
<text class="t" x="343.2" y="2323">socialNormal, country,</text>
<text class="t" x="343.2" y="2337">person2.id</text>
<line class="sep" x1="340.2" y1="2345" x2="519.2" y2="2345"/>
<text class="t" x="343.2" y="2357">{person2.id : person2.id}</text>
<line class="sep" x1="340.2" y1="2365" x2="519.2" y2="2365"/>
<text class="t e" x="427.7" y="2377">2</text><text class="t" x="430.7" y="2377">estimated rows</text>
<text class="t e" x="427.7" y="2391">3</text><text class="t" x="430.7" y="2391">db hits</text>
<path class="bar" d="M339.7,2397H519.7V2398Q519.7,2402 515.7,2402H343.7Q339.7,2402 339.7,2398Z"/>
<rect class="o5" x="339.7" y="2277" width="180" height="125" rx="4"/>
</g>

<g id="n_top">
<rect class="bg" x="305.7" y="2452.3" width="180" height="140" rx="4"/>
<path class="c5" d="M305.7,2470.3V2456.3Q305.7,2452.3 309.7,2452.3H481.7Q485.7,2452.3 485.7,2456.3V2470.3Z"/>
<polygon class="tw" points="310,2459.3 318.4,2459.3 314.2,2465.3"/>
<text class="h" x="323.7" y="2465.3">Top</text>
<text class="t" x="309.2" y="2484.3">person2, friend2Count,</text>
<text class="t" x="309.2" y="2498.3">socialNormal, country,</text>
<text class="t" x="309.2" y="2512.3">person2.id</text>
<line class="sep" x1="306.2" y1="2520.3" x2="485.2" y2="2520.3"/>
<text class="t" x="309.2" y="2532.3">100</text>
<line class="sep" x1="306.2" y1="2540.3" x2="485.2" y2="2540.3"/>
<text class="t" x="309.2" y="2552.3">Ordered by person2.id ASC</text>
<line class="sep" x1="306.2" y1="2560.3" x2="485.2" y2="2560.3"/>
<text class="t e" x="393.7" y="2572.3">2</text><text class="t" x="396.7" y="2572.3">estimated rows</text>
<text class="t e" x="393.7" y="2586.3">0</text><text class="t" x="396.7" y="2586.3">db hits</text>
<rect class="o5" x="305.7" y="2452.3" width="180" height="140" rx="4"/>
</g>

<g id="n_proj3">
<rect class="bg" x="280" y="2642" width="180" height="140" rx="4"/>
<path class="c5" d="M280,2660V2646Q280,2642 284,2642H456Q460,2642 460,2646V2660Z"/>
<polygon class="tw" points="284.3,2649 292.7,2649 288.5,2655"/>
<text class="h" x="298" y="2655">Projection</text>
<text class="t" x="283.5" y="2674">count, person2, friend2Count</text>
<text class="t" x="283.5" y="2688">, socialNormal, country,</text>
<text class="t" x="283.5" y="2702">person2.id</text>
<line class="sep" x1="280.5" y1="2710" x2="459.5" y2="2710"/>
<text class="t" x="283.5" y="2722">{count : friend2Count}</text>
<line class="sep" x1="280.5" y1="2730" x2="459.5" y2="2730"/>
<text class="t" x="283.5" y="2742">Ordered by person2.id ASC</text>
<line class="sep" x1="280.5" y1="2750" x2="459.5" y2="2750"/>
<text class="t e" x="368" y="2762">2</text><text class="t" x="371" y="2762">estimated rows</text>
<text class="t e" x="368" y="2776">0</text><text class="t" x="371" y="2776">db hits</text>
<rect class="o5" x="280" y="2642" width="180" height="140" rx="4"/>
</g>

<g id="n_prod">
<rect class="bg" x="262.3" y="2832.3" width="180" height="120" rx="4"/>
<path class="c6" d="M262.3,2850.3V2836.3Q262.3,2832.3 266.3,2832.3H438.3Q442.3,2832.3 442.3,2836.3V2850.3Z"/>
<polygon class="tk" points="266.6,2839.3 275,2839.3 270.8,2845.3"/>
<text class="h hk" x="280.3" y="2845.3">ProduceResults</text>
<text class="t" x="265.8" y="2864.3">count, person2, friend2Count</text>
<text class="t" x="265.8" y="2878.3">, socialNormal, country,</text>
<text class="t" x="265.8" y="2892.3">person2.id</text>
<line class="sep" x1="262.8" y1="2900.3" x2="441.8" y2="2900.3"/>
<text class="t" x="265.8" y="2912.3">Ordered by person2.id ASC</text>
<line class="sep" x1="262.8" y1="2920.3" x2="441.8" y2="2920.3"/>
<text class="t e" x="350.3" y="2932.3">2</text><text class="t" x="353.3" y="2932.3">estimated rows</text>
<text class="t e" x="350.3" y="2946.3">0</text><text class="t" x="353.3" y="2946.3">db hits</text>
<rect class="o6" x="262.3" y="2832.3" width="180" height="120" rx="4"/>
</g>

<g id="n_result">
<rect class="c6" x="253.3" y="3002" width="180" height="24" rx="4"/>
<text class="h hk" x="271.3" y="3015">Result</text>
<rect class="o6" x="253.3" y="3002" width="180" height="24" rx="4"/>
</g>
</svg>
